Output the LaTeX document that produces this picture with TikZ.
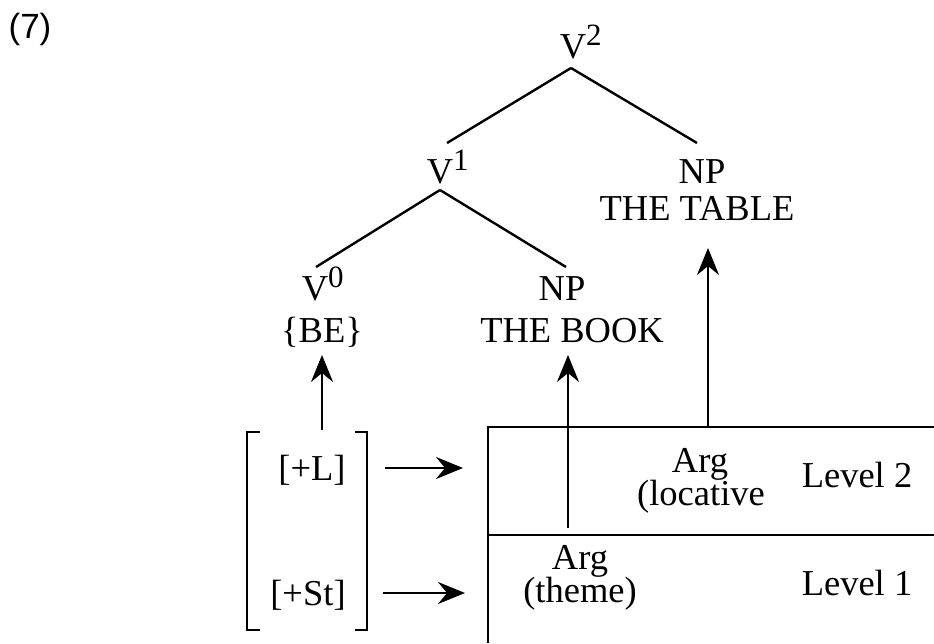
\documentclass[tikz,border=0pt]{standalone}
\usepackage{fontspec}
\setmainfont{Liberation Serif}
\newfontfamily\labelfont{Liberation Sans}
\usetikzlibrary{arrows.meta,calc}
\begin{document}
\begin{tikzpicture}[x=1pt,y=-1pt,
  txt/.style={anchor=base,inner sep=0pt,font=\fontsize{36.5}{40}\selectfont},
  ln/.style={line width=2.4pt},
  arr/.style={line width=2.4pt,-{Stealth[length=27pt,width=22pt,inset=9pt]}}]
\useasboundingbox (0,0) rectangle (934,643);
\newcommand{\supr}[1]{\rlap{\raisebox{13pt}{\fontsize{31}{31}\selectfont #1}}}
% label
\node[anchor=base,inner sep=0pt,font=\labelfont\fontsize{35}{36}\selectfont] (num) at (30,38) {(7)};
% tree nodes
\node[txt] (v2) at (573,58) {V\supr{2}};
\node[txt] (v1) at (440,183) {V\supr{1}};
\node[txt] (np1) at (702,183) {NP};
\node[txt] (table) at (697,220) {THE TABLE};
\node[txt] (v0) at (315,300) {V\supr{0}};
\node[txt] (be) at (322,342) {\{BE\}};
\node[txt] (np2) at (562,300) {NP};
\node[txt] (book) at (572,342) {THE BOOK};
% tree lines
\draw[ln] ($(v2.base)+(-2,10)$) -- ($(v1.base)+(7,-40)$);
\draw[ln] ($(v2.base)+(-2,10)$) -- ($(np1.base)+(-5,-40)$);
\draw[ln] ($(v1.base)+(0,7)$) -- ($(v0.base)+(1,-33)$);
\draw[ln] ($(v1.base)+(0,7)$) -- ($(np2.base)+(4,-33)$);
% feature bracket
\node[txt] (plusL) at (312,480) {[+L]};
\node[txt] (plusSt) at (308,605) {[+St]};
\draw[ln] (260,432) -- (247,432) -- (247,630) -- (260,630);
\draw[ln] (355,432) -- (367,432) -- (367,630) -- (355,630);
\coordinate (feat) at (322,430);
% level box
\coordinate (boxTL) at (488,427);
\coordinate (boxMid) at (488,535);
\draw[ln] (934,427) -- (boxTL) -- (488,643);
\draw[ln] (boxMid) -- (934,535);
\node[txt] (argl) at (700,472) {Arg};
\node[txt] (loc) at (701,505) {(locative};
\node[txt] (lev2) at (857,487) {Level 2};
\node[txt] (argt) at (580,569) {Arg};
\node[txt] (theme) at (580,602) {(theme)};
\node[txt] (lev1) at (857,595) {Level 1};
\coordinate (locTop) at (708,427);
% arrows
\draw[arr] (feat) -- (feat|-{$(be.base)+(0,13)$});
\draw[arr] ($(argt.base)+(-12,-41)$) -- ($(book.base)+(-4,13)$);
\draw[arr] (locTop) -- (locTop|-{$(table.base)+(0,28)$});
\draw[arr] ($(plusL.base)+(73,-12)$) -- ($(boxTL|-plusL.base)+(-25,-12)$);
\draw[arr] ($(plusSt.base)+(75,-12)$) -- ($(boxTL|-plusSt.base)+(-23,-12)$);
\end{tikzpicture}
\end{document}
